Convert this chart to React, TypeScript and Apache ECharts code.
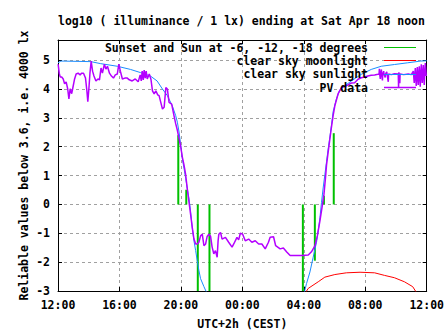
import { useEffect, useRef } from "react";
import * as echarts from "echarts";

// hours after Friday 12:00 (UTC+2h)
const xTickHours = [0, 4, 8, 12, 16, 20, 24];
const xTickLabels = ["12:00", "16:00", "20:00", "00:00", "04:00", "08:00", "12:00"];

const legendNames = [
  "Sunset and Sun at -6, -12, -18 degrees",
  "clear sky moonlight",
  "clear sky sunlight",
  "PV data",
];
const colors = ["#00c000", "#ff0000", "#1a8cff", "#b400ff"];

// sunset / twilight / sunrise events: hour and impulse top (from 0)
const sunEventHours = [7.83, 8.35, 9.1, 9.86, 15.94, 16.72, 17.31, 17.95];
const sunEventTops = [2.4, 0.51, -3, -3, -3, -1.95, 0.3, 2.47];

const moonData: [number, number][] = [
  [16.12, -3.05], [16.29, -2.91], [16.94, -2.68], [17.37, -2.52], [18.02, -2.43],
  [18.77, -2.37], [19.66, -2.35], [20.61, -2.37], [21.26, -2.46], [21.9, -2.54],
  [22.55, -2.68], [23.09, -2.85], [23.33, -3.05],
];

const sunDusk: [number, number][] = [
  [0, 4.91], [0.19, 4.97], [2.14, 4.95], [2.78, 4.88], [3.86, 4.79], [4.72, 4.68],
  [5.37, 4.57], [6.02, 4.45], [6.45, 4.28], [6.8, 4.0], [7.12, 3.77], [7.44, 3.42],
  [7.66, 3.08], [7.77, 2.85], [7.88, 2.51], [7.99, 2.05], [8.09, 1.6], [8.2, 1.26],
  [8.31, 0.91], [8.41, 0.57], [8.52, 0.23], [8.63, -0.23], [8.74, -0.8], [8.85, -1.26],
  [8.96, -1.6], [9.06, -1.94], [9.17, -2.28], [9.28, -2.57], [9.5, -2.85], [9.67, -3.05],
];

const sunDawn: [number, number][] = [
  [16.03, -3.05], [16.18, -2.74], [16.4, -2.34], [16.61, -1.83], [16.83, -1.31],
  [16.94, -0.91], [17.05, -0.46], [17.15, 0.06], [17.26, 0.57], [17.37, 1.03],
  [17.48, 1.48], [17.59, 1.94], [17.7, 2.34], [17.8, 2.74], [17.91, 3.22],
  [18.12, 3.65], [18.34, 3.97], [18.67, 4.11], [19.09, 4.28], [19.74, 4.51],
  [20.39, 4.68], [21.04, 4.79], [21.9, 4.85], [22.76, 4.91], [23.62, 4.97], [24, 4.98],
];

const pvData: [number, number][] = [
  [0.01, 4.86], [0.08, 4.55], [0.14, 4.42], [0.24, 4.42], [0.34, 4.35], [0.43, 4.18],
  [0.53, 4.25], [0.63, 4.01], [0.71, 3.66], [0.79, 4.01], [0.89, 3.84], [0.98, 4.08],
  [1.08, 4.35], [1.18, 4.52], [1.31, 4.55], [1.44, 4.49], [1.53, 4.55], [1.66, 4.55],
  [1.79, 4.38], [1.88, 3.94], [1.94, 3.56], [2.01, 4.01], [2.08, 4.55], [2.16, 4.97],
  [2.25, 4.62], [2.34, 4.45], [2.47, 4.28], [2.6, 4.35], [2.7, 4.32], [2.8, 4.73],
  [2.89, 4.55], [3.02, 4.86], [3.12, 4.69], [3.22, 4.79], [3.35, 4.55], [3.48, 4.45],
  [3.61, 4.38], [3.73, 4.49], [3.86, 4.52], [3.96, 4.86], [4.06, 4.62], [4.19, 4.35],
  [4.35, 4.38], [4.51, 4.38], [4.64, 4.32], [4.83, 4.28], [5.03, 4.35], [5.22, 4.25],
  [5.35, 4.49], [5.42, 4.28], [5.48, 4.62], [5.55, 4.32], [5.61, 4.66], [5.68, 4.38],
  [5.74, 4.62], [5.81, 4.35], [5.94, 4.52], [6.05, 4.34], [6.15, 3.94], [6.26, 3.83],
  [6.37, 3.94], [6.49, 3.8], [6.58, 3.77], [6.69, 3.54], [6.8, 3.31], [6.91, 3.37],
  [7.02, 4.05], [7.12, 4.0], [7.23, 3.54], [7.4, 3.48], [7.55, 3.08], [7.66, 2.8],
  [7.77, 2.57], [7.88, 2.28], [7.99, 2.0], [8.09, 1.65], [8.2, 1.37], [8.31, 1.03],
  [8.41, 0.57], [8.52, 0.11], [8.63, -0.34], [8.74, -0.8], [8.85, -1.2], [8.96, -1.37],
  [9.06, -1.37], [9.17, -1.31], [9.28, -1.09], [9.39, -1.03], [9.5, -1.43], [9.61, -1.37],
  [9.71, -1.11], [9.82, -1.03], [9.93, -1.1], [10.03, -1.47], [10.14, -1.71], [10.25, -1.6],
  [10.36, -1.83], [10.42, -1.27], [10.47, -1.03], [10.58, -0.97], [10.68, -1.2], [10.9, -1.14],
  [11.11, -1.31], [11.33, -1.48], [11.44, -1.37], [11.65, -1.14], [11.76, -1.23], [11.87, -1.0],
  [12.02, -1.03], [12.19, -1.26], [12.41, -1.2], [12.62, -1.31], [12.84, -1.26], [13.06, -1.37],
  [13.27, -1.37], [13.49, -1.54], [13.7, -1.31], [13.81, -1.14], [14.03, -1.12], [14.17, -1.43],
  [14.46, -1.54], [14.67, -1.51], [14.89, -1.65], [15.11, -1.77], [15.43, -1.77], [15.86, -1.77],
  [16.29, -1.75], [16.5, -1.64], [16.73, -1.43], [16.88, -1.09], [17.05, -0.57], [17.2, -0.06],
  [17.31, 0.34], [17.41, 0.91], [17.48, 1.37], [17.59, 1.83], [17.7, 2.28], [17.8, 2.68],
  [17.91, 3.08], [18.02, 3.42], [18.23, 3.83], [18.45, 4.05], [18.77, 4.11], [19.09, 4.21],
  [19.31, 4.22], [19.53, 4.34], [19.74, 4.39], [19.96, 4.42], [20.17, 4.45], [20.39, 4.48],
  [20.61, 4.49], [20.82, 4.51], [20.9, 4.52], [20.92, 4.7], [20.94, 4.52], [20.98, 4.35],
  [21.0, 4.52], [21.05, 4.68], [21.07, 4.52], [21.12, 4.3], [21.14, 4.52], [21.2, 4.62],
  [21.22, 4.52], [21.3, 4.4], [21.32, 4.52], [21.4, 4.6], [21.42, 4.52], [21.5, 4.25],
  [21.52, 4.52], [21.7, 4.5], [21.9, 4.53], [22.15, 4.52], [22.17, 4.05], [22.19, 4.58],
  [22.21, 4.52], [22.25, 4.2], [22.27, 4.52], [22.5, 4.5], [22.8, 4.52], [23.0, 4.5],
  [23.13, 4.62], [23.19, 4.21], [23.26, 4.73], [23.32, 4.11], [23.39, 4.76], [23.45, 4.14],
  [23.52, 4.79], [23.58, 4.08], [23.65, 4.86], [23.71, 4.21], [23.78, 4.83], [23.84, 4.14],
  [23.91, 4.9], [23.97, 4.45],
];

const FONT = '"DejaVu Sans Mono", monospace';
const txt = { fontFamily: FONT, fontWeight: "bold" as const, fontSize: 11.5, color: "#000" };

export default function App() {
  const ref = useRef<HTMLDivElement>(null);
  useEffect(() => {
    if (!ref.current) return;
    const chart = echarts.init(ref.current, undefined, { renderer: "svg" });
    const grid = { left: 58, right: 18, top: 40, bottom: 42 };
    const gridLine = { show: true, lineStyle: { color: "#a0a0a0", type: [3, 3] as number[], width: 1 } };
    const xBase = {
      type: "value" as const,
      min: 0,
      max: 24,
      interval: 4,
      axisLine: { show: true, onZero: false, lineStyle: { color: "#000", width: 1 } },
      axisTick: { show: true, inside: true, length: 4, lineStyle: { color: "#000" } },
    };
    const yBase = {
      type: "value" as const,
      min: -3,
      max: 5.7,
      interval: 1,
      axisLine: { show: true, onZero: false, lineStyle: { color: "#000", width: 1 } },
      axisTick: { show: true, inside: true, length: 4, lineStyle: { color: "#000" } },
    };
    const greenSeries = sunEventHours.map((h, i) => ({
      type: "line" as const,
      name: legendNames[0],
      data: [[h, 0], [h, sunEventTops[i]]],
      symbol: "none",
      lineStyle: { color: colors[0], width: 2 },
      silent: true,
    }));
    const lineS = (data: [number, number][], ci: number, width: number) => ({
      type: "line" as const,
      name: legendNames[ci],
      data,
      symbol: "none",
      lineStyle: { color: colors[ci], width },
      silent: true,
    });
    const rows = [47.5, 60.5, 74.5, 87.5];
    const legendGraphics: any[] = [];
    legendNames.forEach((n, i) => {
      legendGraphics.push({
        type: "text",
        z: 100,
        x: 368,
        y: rows[i] - (i === 2 ? 0.5 : 0),
        style: {
          text: n,
          x: 0,
          y: 0,
          align: "right",
          verticalAlign: "middle",
          textAlign: "right",
          textVerticalAlign: "middle",
          font: `bold 11.5px ${FONT}`,
          fill: "#000",
        },
      });
      legendGraphics.push({
        type: "rect",
        z: 100,
        shape: { x: 384, y: rows[i] - (i === 3 ? 0.75 : 0.5), width: 32, height: i === 3 ? 1.5 : 1 },
        style: { fill: colors[i] },
      });
    });
    chart.setOption({
      animation: false,
      backgroundColor: "#fff",
      title: {
        text: "log10 ( illuminance / 1 lx) ending at Sat Apr 18 noon",
        left: 58,
        top: 14.5,
        padding: 0,
        textStyle: { ...txt },
      },
      grid,
      xAxis: [
        {
          ...xBase,
          position: "bottom",
          name: "UTC+2h (CEST)",
          nameLocation: "middle",
          nameGap: 27,
          nameMoveOverlap: false,
          nameTextStyle: { ...txt },
          axisLabel: {
            ...txt,
            margin: 8,
            formatter: (v: number) => {
              const i = xTickHours.indexOf(v);
              return i >= 0 ? xTickLabels[i] : "";
            },
          },
          splitLine: { ...gridLine, showMinLine: false, showMaxLine: false },
        },
        {
          ...xBase,
          position: "top",
          axisLabel: { show: false },
          splitLine: { show: false },
        },
      ],
      yAxis: [
        {
          ...yBase,
          position: "left",
          name: "Reliable values below 3.6, i.e. 4000 lx",
          nameLocation: "middle",
          nameGap: 28,
          nameMoveOverlap: false,
          nameTextStyle: { ...txt },
          axisLabel: {
            ...txt,
            margin: 8,
            formatter: (v: number) => (Number.isInteger(v) ? String(v) : ""),
          },
          splitLine: { ...gridLine, showMinLine: false, showMaxLine: false },
        },
        {
          ...yBase,
          position: "right",
          axisLabel: { show: false },
          splitLine: { show: false },
        },
      ],
      graphic: legendGraphics,
      series: [
        ...greenSeries,
        lineS(moonData, 1, 1),
        lineS(sunDusk, 2, 1),
        lineS(sunDawn, 2, 1),
        lineS(pvData, 3, 1.5),
      ],
    });
    return () => chart.dispose();
  }, []);
  return (
    <div
      ref={ref}
      style={{ position: "fixed", left: 0, top: 0, width: 447, height: 335 }}
    />
  );
}
